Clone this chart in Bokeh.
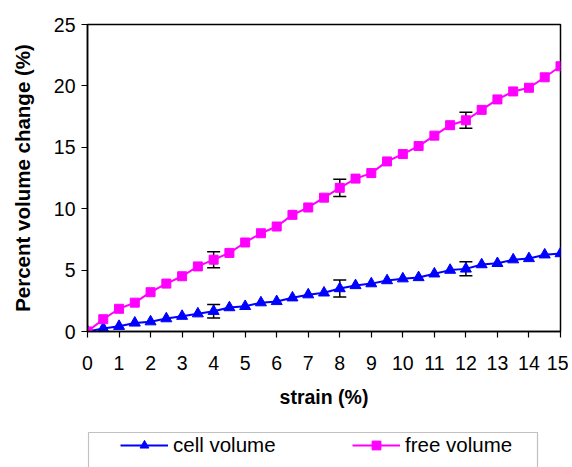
from bokeh.plotting import figure
from bokeh.models import (ColumnDataSource, Range1d, FixedTicker, Whisker, TeeHead,
                          Legend, LegendItem, BoxAnnotation)
from bokeh.layouts import column
from bokeh.embed import file_html
from bokeh.resources import INLINE

# ---- data ----
strain = [0, 0.5, 1, 1.5, 2, 2.5, 3, 3.5, 4, 4.5, 5, 5.5, 6, 6.5, 7, 7.5,
          8, 8.5, 9, 9.5, 10, 10.5, 11, 11.5, 12, 12.5, 13, 13.5, 14, 14.5, 15]
free_volume = [0, 1.0, 1.85, 2.35, 3.2, 3.9, 4.5, 5.3, 5.85, 6.4, 7.25, 8.0, 8.55,
               9.5, 10.1, 10.9, 11.7, 12.45, 12.9, 13.85, 14.45, 15.1, 15.95, 16.8,
               17.2, 18.05, 18.9, 19.55, 19.85, 20.7, 21.6]
cell_volume = [0, 0.25, 0.43, 0.7, 0.8, 1.05, 1.25, 1.45, 1.65, 1.95, 2.05, 2.35,
               2.45, 2.75, 3.0, 3.15, 3.5, 3.75, 3.9, 4.15, 4.3, 4.4, 4.7, 5.0, 5.1,
               5.45, 5.55, 5.85, 5.95, 6.25, 6.35]
err_strain = [4, 8, 12]
free_err = [0.65, 0.7, 0.65]
cell_err = [0.55, 0.7, 0.57]
x_ticks = list(range(0, 16))
y_ticks = [0, 5, 10, 15, 20, 25]
series_labels = ["cell volume", "free volume"]

FONT = "Liberation Sans"
FREE_C = "#FF00FF"
CELL_C = "#0000FF"

p = figure(width=568, height=425, output_backend="svg", toolbar_location=None,
           x_range=Range1d(0, 15), y_range=Range1d(0, 25),
           min_border_left=87, min_border_right=8, min_border_top=24,
           min_border_bottom=94)
p.grid.visible = False
p.outline_line_color = "black"
p.outline_line_width = 1.5
p.background_fill_color = "white"

for ax in (p.xaxis[0], p.yaxis[0]):
    ax.axis_line_color = "black"
    ax.axis_line_width = 1.5
    ax.major_tick_line_color = "black"
    ax.major_tick_line_width = 1.2
    ax.major_tick_out = 6
    ax.major_tick_in = 0
    ax.minor_tick_line_color = None
    ax.major_label_text_font = FONT
    ax.major_label_text_font_size = "19.5px"
    ax.major_label_text_color = "black"
    ax.axis_label_text_font = FONT
    ax.axis_label_text_font_style = "bold"
    ax.axis_label_text_color = "black"

p.xaxis.ticker = FixedTicker(ticks=x_ticks)
p.yaxis.ticker = FixedTicker(ticks=y_ticks)
p.xaxis.axis_label = "strain (%)"
p.yaxis.axis_label = "Percent volume change (%)"
p.xaxis.axis_label_text_font_size = "19.5px"
p.yaxis.axis_label_text_font_size = "20.5px"
p.xaxis.major_label_standoff = 18
p.yaxis.major_label_standoff = 6
p.xaxis.axis_label_standoff = 13
p.yaxis.axis_label_standoff = 17

src = ColumnDataSource(dict(x=strain, free=free_volume, cell=cell_volume))


def draw_series(fig, source):
    cl = fig.line("x", "cell", source=source, line_color=CELL_C, line_width=2)
    cs = fig.scatter("x", "cell", source=source, marker="triangle", size=11,
                     fill_color=CELL_C, line_color=CELL_C)
    fl = fig.line("x", "free", source=source, line_color=FREE_C, line_width=2)
    fs = fig.scatter("x", "free", source=source, marker="square", size=9,
                     fill_color=FREE_C, line_color=FREE_C)
    return cl, cs, fl, fs


draw_series(p, src)

idx = [strain.index(v) for v in err_strain]
for series, errs in ((free_volume, free_err), (cell_volume, cell_err)):
    centers = [series[i] for i in idx]
    esrc = ColumnDataSource(dict(
        x=err_strain,
        upper=[c + e for c, e in zip(centers, errs)],
        lower=[c - e for c, e in zip(centers, errs)]))
    w = Whisker(source=esrc, base="x", upper="upper", lower="lower",
                line_color="black", line_width=1.5,
                upper_head=TeeHead(size=13, line_color="black", line_width=1.5),
                lower_head=TeeHead(size=13, line_color="black", line_width=1.5))
    p.add_layout(w)

# ---- legend strip (separate figure below the chart) ----
p2 = figure(width=568, height=42, output_backend="svg", toolbar_location=None,
            x_range=Range1d(0, 15), y_range=Range1d(-2, -1),
            x_axis_type=None, y_axis_type=None,
            min_border_left=87, min_border_right=8, min_border_top=0,
            min_border_bottom=0)
p2.grid.visible = False
p2.outline_line_color = None
# same series (outside this strip's view) so the legend shows their glyphs
cl2, cs2, fl2, fs2 = draw_series(p2, src)

box = BoxAnnotation(left=88, right=537, top=7, bottom=70,
                    left_units="canvas", right_units="canvas",
                    top_units="canvas", bottom_units="canvas",
                    fill_alpha=0, fill_color=None,
                    line_color="#333333", line_width=1.2)
p2.add_layout(box)

legend = Legend(items=[LegendItem(label=series_labels[0], renderers=[cl2, cs2]),
                       LegendItem(label=series_labels[1], renderers=[fl2, fs2])],
                orientation="horizontal", location=(33, 10),
                padding=0, margin=0, spacing=50,
                glyph_width=48, glyph_height=22, label_standoff=5,
                label_width=129, label_height=22,
                label_text_font=FONT, label_text_font_size="20.5px",
                label_text_color="black",
                border_line_alpha=0, background_fill_alpha=0)
p2.add_layout(legend)

layout = column(p, p2, spacing=0)
open("out.html", "w").write(file_html(layout, INLINE))
